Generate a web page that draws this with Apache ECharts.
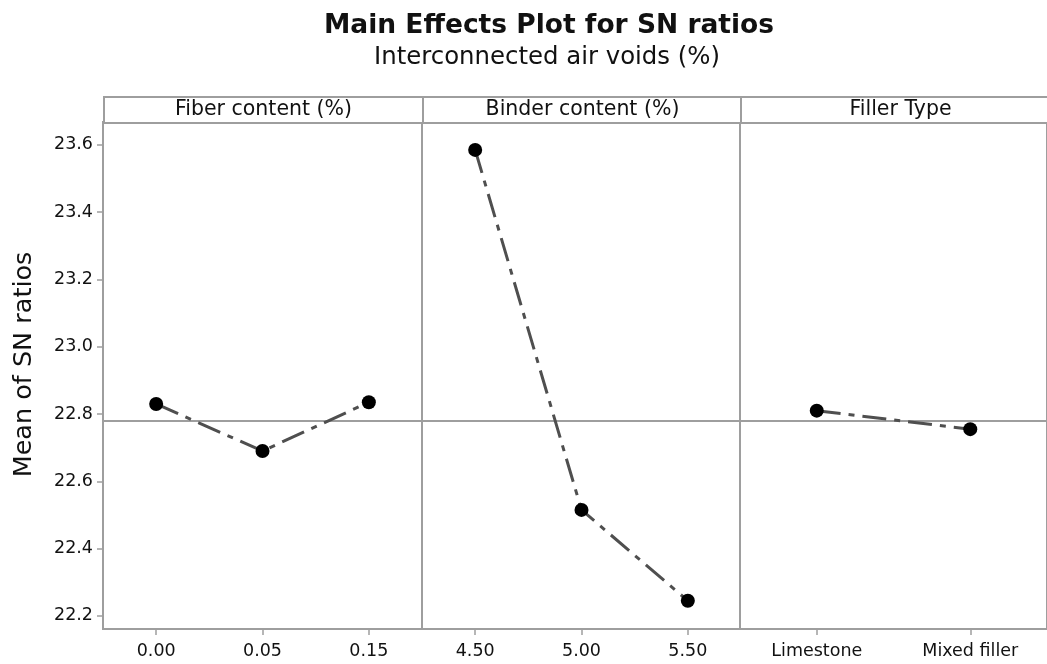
<!DOCTYPE html>
<html>
<head>
<meta charset="utf-8">
<script src="https://cdn.jsdelivr.net/npm/echarts@6/dist/echarts.min.js"></script>
<style>html,body{margin:0;padding:0;background:#fff}#c{width:1047px;height:664px}</style>
</head>
<body>
<div id="c"></div>
<script>
// ---- data ----
const panelTitles = ['Fiber content (%)', 'Binder content (%)', 'Filler Type'];
const fiberLevels = ['0.00', '0.05', '0.15'];
const fiberSN = [22.83, 22.69, 22.835];
const binderLevels = ['4.50', '5.00', '5.50'];
const binderSN = [23.585, 22.515, 22.245];
const fillerLevels = ['Limestone', 'Mixed filler'];
const fillerSN = [22.81, 22.755];
const yTickValues = [22.2, 22.4, 22.6, 22.8, 23.0, 23.2, 23.4, 23.6];
const overallMean = 22.783;
const titleText = 'Main Effects Plot for SN ratios';
const subtitleText = 'Interconnected air voids (%)';
const yAxisTitle = 'Mean of SN ratios';

// ---- layout ----
const FONT = 'DejaVu Sans';
const panelLeft = [103, 422, 740];
const panelWidth = 319;
const plotTop = 122, plotBottom = 629, headerTop = 96;
const yMin = 22.161, yMax = 23.668;
const frameColor = '#9e9e9e';
const lineColor = '#4f4f4f';

const cats = [fiberLevels, binderLevels, fillerLevels];
const vals = [fiberSN, binderSN, fillerSN];

const grids = [], xAxes = [], yAxes = [], series = [], graphics = [];
for (let i = 0; i < 3; i++) {
  grids.push({
    left: panelLeft[i], width: panelWidth, top: plotTop, height: plotBottom - plotTop,
    show: true, borderColor: frameColor, borderWidth: 2, backgroundColor: '#fff'
  });
  xAxes.push({
    type: 'category', gridIndex: i, data: cats[i], boundaryGap: true,
    axisLine: { show: false },
    axisTick: { show: true, alignWithLabel: true, length: 6, lineStyle: { color: frameColor, width: 1.5 } },
    axisLabel: { color: '#111', fontFamily: FONT, fontSize: 17.5, margin: 13 },
    splitLine: { show: false }
  });
  yAxes.push({
    type: 'value', gridIndex: i, min: yMin, max: yMax,
    axisLine: { show: false },
    axisTick: { show: i === 0, length: 6, customValues: yTickValues, lineStyle: { color: frameColor, width: 1.5 } },
    axisLabel: { show: i === 0, customValues: yTickValues, color: '#111', fontFamily: FONT, fontSize: 17.5, margin: 10,
      formatter: v => v.toFixed(1) },
    splitLine: { show: false },
    name: i === 0 ? yAxisTitle : '', nameLocation: 'middle', nameGap: 66, nameRotate: 90,
    nameTextStyle: { color: '#111', fontFamily: FONT, fontSize: 25.5, padding: [0, 0, 0, 22] }
  });
  series.push({
    type: 'line', xAxisIndex: i, yAxisIndex: i, data: vals[i],
    symbol: 'circle', symbolSize: 14,
    itemStyle: { color: '#000' },
    lineStyle: { color: lineColor, width: 3, type: [24, 8, 6, 8] },
    z: 3,
    markLine: {
      silent: true, symbol: 'none', label: { show: false },
      lineStyle: { color: frameColor, width: 2, type: 'solid' },
      data: [{ yAxis: overallMean }], z: 1
    }
  });
  graphics.push({
    type: 'rect', left: panelLeft[i], top: headerTop,
    shape: { width: panelWidth, height: plotTop - headerTop },
    style: { fill: '#fff', stroke: frameColor, lineWidth: 2 },
    textContent: { style: { text: panelTitles[i], fontFamily: FONT, fontSize: 20.5, fill: '#111' } },
    textConfig: { position: 'inside' }
  });
}

const chart = echarts.init(document.getElementById('c'), null, { renderer: 'canvas' });
chart.setOption({
  backgroundColor: '#fff',
  animation: false,
  title: [
    { text: titleText, left: 544, top: 8, textAlign: 'center',
      textStyle: { fontFamily: FONT, fontSize: 26.5, fontWeight: 'bold', color: '#111' } },
    { text: subtitleText, left: 542, top: 41, textAlign: 'center',
      textStyle: { fontFamily: FONT, fontSize: 24.4, fontWeight: 'normal', color: '#111' } }
  ],
  grid: grids, xAxis: xAxes, yAxis: yAxes, series: series,
  graphic: graphics
});
</script>
</body>
</html>
